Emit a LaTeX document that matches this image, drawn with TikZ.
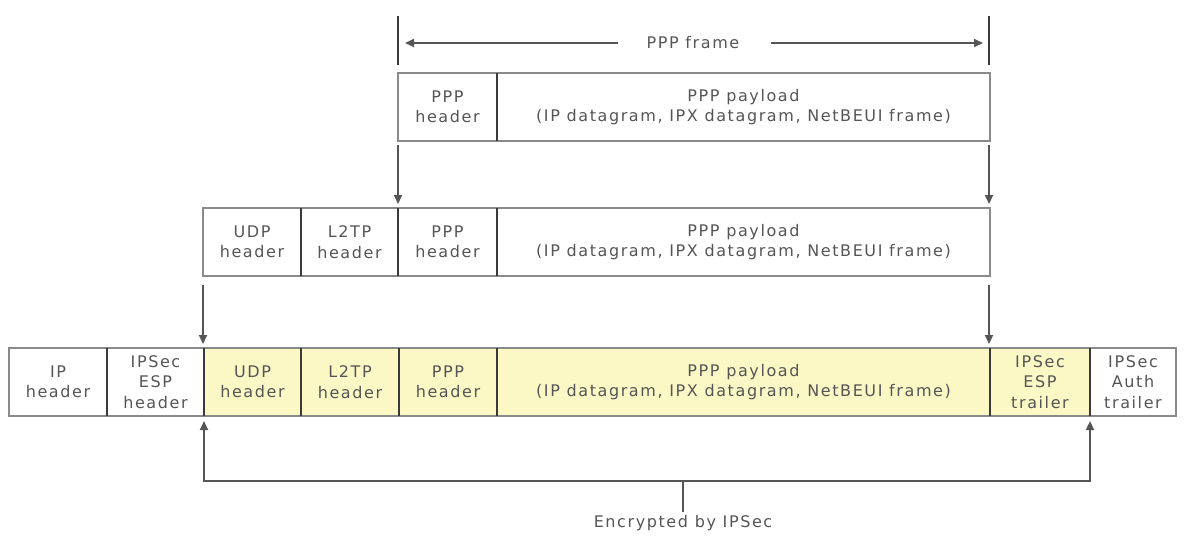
\documentclass[tikz,border=0pt]{standalone}
\usepackage{fontspec}
\setmainfont{DejaVu Sans}[LetterSpace=10]
\usetikzlibrary{arrows.meta}
\definecolor{txt}{HTML}{555555}
\definecolor{edge}{HTML}{8A8A8A}
\definecolor{divc}{HTML}{3A3A3A}
\definecolor{arr}{HTML}{555555}
\definecolor{yel}{HTML}{FBF8C6}
\begin{document}
\begin{tikzpicture}[x=1pt,y=-1pt,
  cell/.style={rectangle, inner sep=0pt, outer sep=0pt, minimum height=68pt,
    text=txt, align=center, font=\fontsize{16}{20.5}\selectfont},
  enc/.style={cell, fill=yel},
  frame/.style={draw=edge, line width=1.6pt},
  divider/.style={draw=divc, line width=1.2pt},
  arrowline/.style={draw=arr, line width=2pt, -{Triangle[length=9pt,width=8pt]}},
  tick/.style={draw=divc, line width=2pt},
  lbl/.style={text=txt, font=\fontsize{16}{20.5}\selectfont, inner sep=0pt}
]
\useasboundingbox (0,0) rectangle (1185,536);
% ---------- Row 1
\node[cell, minimum width=99pt] (r1a) at (447.5,107) {PPP\\header};
\node[cell, minimum width=493pt] (r1b) at (743.5,107) {PPP payload\\(IP datagram, IPX datagram, NetBEUI frame)};
\draw[frame] (r1a.north west) rectangle (r1b.south east);
\draw[divider] (r1a.north east) -- (r1a.south east);
% PPP frame dimension
\coordinate (tl1) at (398,16); \coordinate (tl2) at (398,65);
\coordinate (tr1) at (989,16); \coordinate (tr2) at (989,65);
\draw[tick] (tl1) -- (tl2);
\draw[tick] (tr1) -- (tr2);
\node[lbl] (pf) at (693,43) {PPP frame};
\coordinate (al) at (618,43); \coordinate (ar) at (771,43);
\coordinate (alt) at (405,43); \coordinate (art) at (983,43);
\draw[arrowline] (al) -- (alt);
\draw[arrowline] (ar) -- (art);
% ---------- Row 2
\node[cell, minimum width=98pt] (r2a) at (252,242) {UDP\\header};
\node[cell, minimum width=97pt] (r2b) at (349.5,242) {L2TP\\header};
\node[cell, minimum width=99pt] (r2c) at (447.5,242) {PPP\\header};
\node[cell, minimum width=493pt] (r2d) at (743.5,242) {PPP payload\\(IP datagram, IPX datagram, NetBEUI frame)};
\draw[frame] (r2a.north west) rectangle (r2d.south east);
\draw[divider] (r2a.north east) -- (r2a.south east);
\draw[divider] (r2b.north east) -- (r2b.south east);
\draw[divider] (r2c.north east) -- (r2c.south east);
% arrows row1 -> row2
\coordinate (d1s) at (398,145); \coordinate (d1e) at (398,204);
\coordinate (d2s) at (989,145); \coordinate (d2e) at (989,204);
\draw[arrowline] (d1s) -- (d1e);
\draw[arrowline] (d2s) -- (d2e);
% ---------- Row 3
\node[cell, minimum width=98pt] (r3a) at (58,382) {IP\\header};
\node[cell, minimum width=97pt] (r3b) at (155.5,382) {IPSec\\ESP\\header};
\node[enc, minimum width=97pt] (r3c) at (252.5,382) {UDP\\header};
\node[enc, minimum width=98pt] (r3d) at (350,382) {L2TP\\header};
\node[enc, minimum width=98pt] (r3e) at (448,382) {PPP\\header};
\node[enc, minimum width=493pt] (r3f) at (743.5,382) {PPP payload\\(IP datagram, IPX datagram, NetBEUI frame)};
\node[enc, minimum width=100pt] (r3g) at (1040,382) {IPSec\\ESP\\trailer};
\node[cell, minimum width=86pt] (r3h) at (1133,382) {IPSec\\Auth\\trailer};
\draw[frame] (r3a.north west) rectangle (r3h.south east);
\foreach \n in {r3a,r3b,r3c,r3d,r3e,r3f,r3g}
  \draw[divider] (\n.north east) -- (\n.south east);
% arrows row2 -> row3
\coordinate (e1s) at (203,285); \coordinate (e1e) at (203,344);
\coordinate (e2s) at (989,285); \coordinate (e2e) at (989,344);
\draw[arrowline] (e1s) -- (e1e);
\draw[arrowline] (e2s) -- (e2e);
% ---------- Encrypted bracket
\node[lbl] (encl) at (683,523) {Encrypted by IPSec};
\coordinate (bl) at (204,481); \coordinate (br) at (1090,481);
\coordinate (bm) at (683,481); \coordinate (bms) at (683,512);
\coordinate (ult) at (204,421); \coordinate (urt) at (1090,421);
\draw[draw=arr, line width=2pt] (bl) -- (br);
\draw[draw=arr, line width=2pt] (bm) -- (bms);
\draw[arrowline, shorten <=-1pt] (bl) -- (ult);
\draw[arrowline, shorten <=-1pt] (br) -- (urt);
\end{tikzpicture}
\end{document}
